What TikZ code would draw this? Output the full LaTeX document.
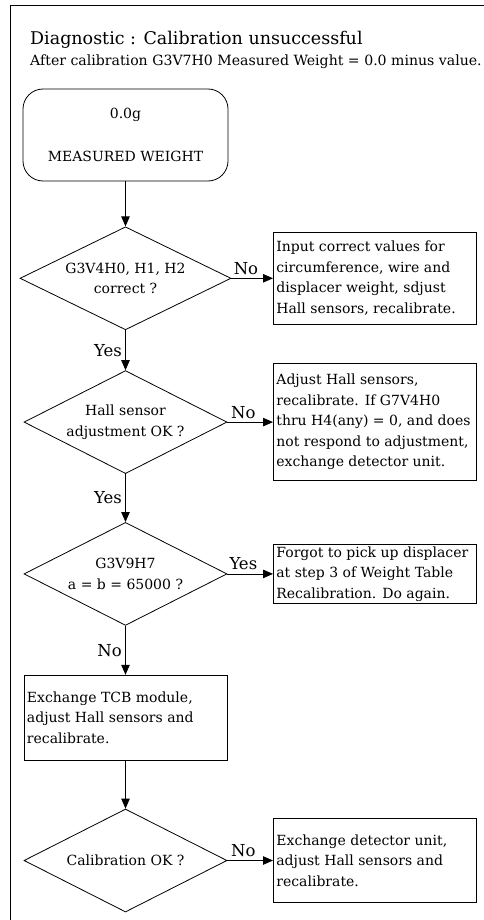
\documentclass[tikz,border=0pt]{standalone}
\usepackage{fontspec}
\setmainfont{DejaVu Serif}
\usetikzlibrary{arrows.meta,positioning,shapes.geometric}

\begin{document}
\begin{tikzpicture}[
  x=1pt,y=-1pt,
  font=\fontsize{14}{20.5}\selectfont,
  start/.style={draw,rounded corners=20pt,minimum width=205pt,minimum height=92pt,align=center,line width=0.8pt},
  test/.style={draw,diamond,shape aspect=2,inner sep=0pt,minimum width=203pt,minimum height=103pt,align=center,line width=0.8pt},
  action/.style={draw,text width=197pt,inner xsep=3pt,inner ysep=3pt,align=flush left,line width=0.8pt},
  ans/.style={font=\fontsize{16.5}{18}\selectfont},
  flow/.style={-{Triangle[length=10pt,width=8.5pt]},line width=0.8pt},
]
\useasboundingbox (0,0) rectangle (484,920);

% --- frame and heading
\coordinate (frametop) at (10,5);
\draw[line width=0.8pt] (10,920) -- (frametop) -- (484,5);
\node[anchor=west,inner sep=0pt,font=\fontsize{17.5}{20}\selectfont] (title) at (30,40) {Diagnostic : Calibration unsuccessful};
\node[anchor=west,inner sep=0pt,font=\fontsize{14.1}{16}\selectfont] (sub) at (30,62) {After calibration G3V7H0 Measured Weight = 0.0 minus value.};

% --- main column
\node[start] (mw) at (125.5,135) {0.0g\\[22pt]MEASURED WEIGHT};
\node[test,below=45pt of mw,minimum width=211pt] (q1) {G3V4H0, H1, H2\\correct ?};
\node[test,below=40pt of q1] (q2) {Hall sensor\\adjustment OK ?};
\node[test,below=48pt of q2] (q3) {G3V9H7\\a = b = 65000 ?};
\node[action,below=49pt of q3,minimum height=85pt] (tcb) {Exchange TCB module,\\adjust Hall sensors and\\recalibrate.};
\node[test,below=48pt of tcb] (q4) {Calibration OK ?};

% --- right column
\coordinate (col) at (273,0);
\node[action,anchor=west,minimum height=92pt] (fix1) at (q1 -| col) {Input correct values for\\circumference, wire and\\displacer weight, sdjust\\Hall sensors, recalibrate.};
\node[action,anchor=west,minimum height=117pt] (fix2) at (q2 -| col) {Adjust Hall sensors,\\recalibrate. If G7V4H0\\thru H4(any) = 0, and does\\not respond to adjustment,\\exchange detector unit.};
\node[action,anchor=west,inner ysep=2pt] (fix3) at (q3 -| col) {Forgot to pick up displacer\\at step 3 of Weight Table\\Recalibration. Do again.};
\node[action,anchor=west,minimum height=84pt] (fix4) at (q4 -| col) {Exchange detector unit,\\adjust Hall sensors and\\recalibrate.};

% --- connectors
\draw[flow] (mw) -- (q1);
\draw[flow] (q1) -- node[ans,left] {Yes} (q2);
\draw[flow] (q2) -- node[ans,left] {Yes} (q3);
\draw[flow] (q3) -- node[ans,left] {No} (tcb);
\draw[flow] (tcb) -- (q4);
\draw[flow] (q1.east) -- node[ans,above,pos=0.35] {No} (fix1.west);
\draw[flow] (q2.east) -- node[ans,above,pos=0.35] {No} (fix2.west);
\draw[flow] (q3.east) -- node[ans,above,pos=0.35] {Yes} (fix3.west);
\draw[flow] (q4.east) -- node[ans,above,pos=0.35] {No} (fix4.west);
\end{tikzpicture}
\end{document}
